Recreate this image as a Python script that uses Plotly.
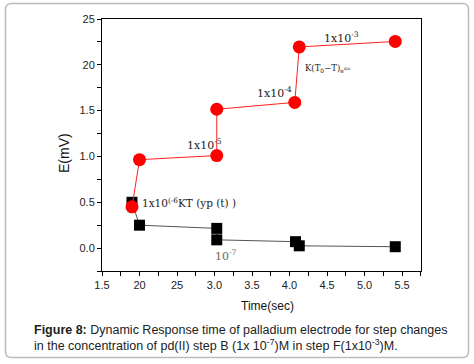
import plotly.graph_objects as go

# ---- data ----
red_x = [1.90, 2.00, 3.03, 3.03, 4.07, 4.13, 5.41]
red_y = [0.45, 0.965, 1.01, 1.515, 1.59, 2.195, 2.255]
blk_x = [1.90, 2.00, 3.03, 3.03, 4.08, 4.13, 5.41]
blk_y = [0.50, 0.25, 0.215, 0.09, 0.07, 0.025, 0.015]

x_tickvals = [1.5, 2.0, 2.5, 3.0, 3.5, 4.0, 4.5, 5.0, 5.5]
x_ticktext = ["1.5", "20", "25", "3.0", "3.5", "4.0", "4.5", "5.0", "5.5"]
y_tickvals = [0.0, 0.5, 1.0, 1.5, 2.0, 2.5]
y_ticktext = ["0.0", "0.5", "1.0", "1.5", "20", "25"]

labels = [
    (4.43, 2.30, "1x10<sup>-3</sup>", 11, "#222"),
    (4.185, 1.965, "K(T<sub>0</sub>−T)<sub>e<sup>xin</sup></sub>", 8.5, "#222"),
    (3.545, 1.70, "1x10<sup>-4</sup>", 11, "#222"),
    (2.61, 1.13, "1x10<sup>-5</sup>", 11, "#222"),
    (2.01, 0.50, "1x10<sup>(-6</sup>KT (yp (t) )", 10.5, "#222"),
    (2.985, -0.085, "10<sup>-7</sup>", 11, "#666"),
]

caption1 = "<b>Figure 8:</b> Dynamic Response time of palladium electrode for step changes"
caption2 = "in the concentration of pd(II) step B (1x 10<sup>-7</sup>)M in step F(1x10<sup>-3</sup>)M."

W, H = 474, 364
L, R, T, B = 102, 53, 19, 93
pw, ph = W - L - R, H - T - B

def px2paper(px, py):
    return (px - L) / pw, (H - B - py) / ph

fig = go.Figure()
fig.add_trace(go.Scatter(
    x=blk_x, y=blk_y, mode="lines+markers",
    line=dict(color="#555555", width=1),
    marker=dict(symbol="square", size=11, color="black"),
    showlegend=False))
fig.add_trace(go.Scatter(
    x=red_x, y=red_y, mode="lines+markers",
    line=dict(color="#ff2020", width=1),
    marker=dict(symbol="circle", size=13, color="#ff0000"),
    showlegend=False))

for x, y, t, s, c in labels:
    fig.add_annotation(x=x, y=y, xref="x", yref="y", text=t, showarrow=False,
                       xanchor="left", yanchor="middle",
                       font=dict(family="DejaVu Serif", size=s, color=c))

# axis titles
fx, fy = px2paper(267, 306)
fig.add_annotation(x=fx, y=fy, xref="paper", yref="paper", text="Time(sec)",
                   showarrow=False, xanchor="center", yanchor="middle",
                   font=dict(family="Liberation Sans", size=12, color="#111"))
fx, fy = px2paper(64, 153)
fig.add_annotation(x=fx, y=fy, xref="paper", yref="paper", text="E(mV)",
                   showarrow=False, xanchor="center", yanchor="middle", textangle=-90,
                   font=dict(family="Liberation Sans", size=14, color="#111"))

# caption
for (py, txt) in [(330, caption1), (345, caption2)]:
    fx, fy = px2paper(32, py)
    fig.add_annotation(x=fx, y=fy, xref="paper", yref="paper", text=txt,
                       showarrow=False, xanchor="left", yanchor="middle",
                       font=dict(family="Liberation Sans", size=12.5, color="#222"))

# rounded outer border
x0, y0 = px2paper(5.5, 3.5)
x1, y1 = px2paper(468.5, 357.5)
rx, ry = 6 / pw, 6 / ph
path = (f"M {x0+rx},{y0} L {x1-rx},{y0} Q {x1},{y0} {x1},{y0-ry} "
        f"L {x1},{y1+ry} Q {x1},{y1} {x1-rx},{y1} L {x0+rx},{y1} Q {x0},{y1} {x0},{y1+ry} "
        f"L {x0},{y0-ry} Q {x0},{y0} {x0+rx},{y0} Z")
fig.add_shape(type="path", path=path, xref="paper", yref="paper",
              line=dict(color="#bbbbbb", width=1.5))

tickfont = dict(family="Liberation Sans", size=11, color="#222")
fig.update_xaxes(range=[1.5, 5.753], tickvals=x_tickvals, ticktext=x_ticktext,
                 automargin=False,
                 showgrid=False, zeroline=False, showline=True, linecolor="black",
                 linewidth=1, mirror=True, ticks="outside", ticklen=4, tickcolor="black",
                 tickfont=tickfont,
                 minor=dict(tickvals=[1.75, 2.25, 2.75, 3.25, 3.75, 4.25, 4.75, 5.25, 5.75],
                            ticks="outside", ticklen=4, tickcolor="black"))
fig.update_yaxes(range=[-0.25, 2.5], tickvals=y_tickvals, ticktext=y_ticktext,
                 automargin=False,
                 showgrid=False, zeroline=False, showline=True, linecolor="black",
                 linewidth=1, mirror=True, ticks="outside", ticklen=4, tickcolor="black",
                 tickfont=tickfont,
                 minor=dict(tickvals=[-0.25, 0.25, 0.75, 1.25, 1.75, 2.25],
                            ticks="outside", ticklen=4, tickcolor="black"))

fig.update_layout(width=W, height=H, margin=dict(l=L, r=R, t=T, b=B),
                  paper_bgcolor="white", plot_bgcolor="white")
fig.write_html("out.html", config={"displayModeBar": False},
               post_script="document.body.style.margin='0';document.body.style.padding='0';")
